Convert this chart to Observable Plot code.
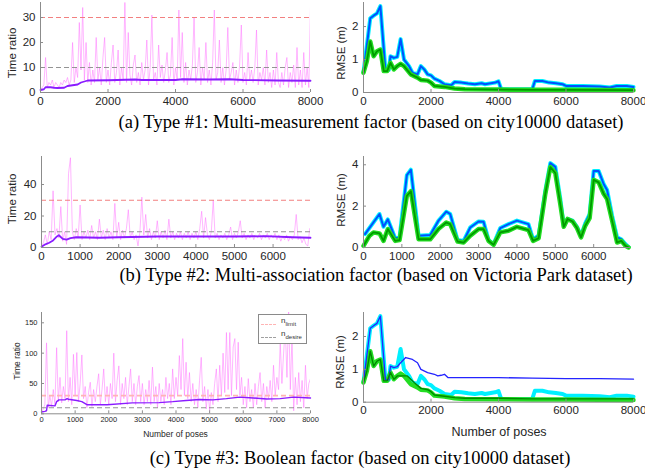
<!DOCTYPE html>
<html><head><meta charset="utf-8">
<script src="https://cdn.jsdelivr.net/npm/d3@7"></script>
<script src="https://cdn.jsdelivr.net/npm/@observablehq/plot@0.6"></script>
<style>
body{margin:0;background:#fff;}
#root{position:relative;width:645px;height:474px;overflow:hidden;font-family:"Liberation Sans",Arial,sans-serif;background:#fff;}
.p{position:absolute;}
.p svg{overflow:visible;display:block;}
.cap{position:absolute;width:640px;text-align:center;font-family:"Liberation Serif","Times New Roman",serif;font-size:18.5px;line-height:18px;color:#000;white-space:nowrap;}
.yl{position:absolute;transform:translate(-50%,-50%) rotate(-90deg);white-space:nowrap;color:#262626;line-height:1;}
.xl{position:absolute;transform:translate(-50%,-50%);white-space:nowrap;color:#262626;line-height:1;}
#leg{position:absolute;left:258px;top:314px;width:47px;height:28px;border:1px solid #8a8a8a;background:#fff;font-size:8px;color:#333;}
#leg .row{position:absolute;left:2px;height:10px;}
#leg .dash{position:absolute;left:0;top:5px;width:15px;height:0;border-top:1.5px dashed;}
#leg .t{position:absolute;left:20px;top:-3px;white-space:nowrap;}
#leg sub{font-size:6px;vertical-align:-3px;}
</style></head>
<body><div id="root"></div>
<script>
// ---------- data ----------
// (a) Type #1, Time ratio (step 50 poses)
const pinkA = [1,2,3,14,2,4,3,5,2,4,3,2,4,3,5,4,6,3,5,20,
4,10,6,28,9,34,5,20,4,12,3,9,4,22,5,10,3,14,22,4,
9,3,12,19,4,8,17,3,10,5,36,4,24,7,3,11,15,4,8,3,
12,5,9,21,3,10,31,5,8,3,19,6,11,4,9,16,4,7,22,3,
10,5,33,6,24,4,12,3,9,5,11,30,4,8,18,3,10,5,20,4,
9,3,12,33,5,8,21,4,10,3,9,26,5,8,12,3,9,4,11,27,
4,8,3,16,5,9,4,10,25,3,8,5,10,3,17,4,8,2,9,3,
16,4,2,8,3,10,14,2,8,4,11,2,18,3,9,2,16,3,10,2,34];
const purpleAx = [0,100,150,300,400,500,700,800,1000,1100,1200,1400,2000,2800,3000,4000,4200,5000,5600,6000,7000,8000];
const purpleAy = [1,1.3,2.1,2.1,1.9,1.8,1.9,2.6,3,3.2,4,4.8,4.9,5.2,5,5,5.3,5.2,5.3,5,4.8,4.7];
// (a) RMSE
const blueAx = [0,200,300,400,500,650,750,800,900,1000,1100,1200,1350,1450,1600,1700,1800,1900,2000,2100,2250,2400,2600,2700,2900,3100,3300,3500,3600,3900,4000,4080,5000,5080,5300,5500,5700,5900,6000,6500,7000,7300,7500,7800,8000];
const blueAy = [0.62,2.25,2.33,2.4,2.62,0.68,0.68,1.1,1.05,1.08,1.62,1.0,0.8,0.6,0.55,0.8,0.7,0.55,0.52,0.42,0.35,0.25,0.22,0.32,0.3,0.27,0.25,0.28,0.25,0.3,0.34,0.1,0.1,0.35,0.35,0.3,0.28,0.25,0.2,0.2,0.18,0.15,0.2,0.2,0.17];
const greenAx = [0,100,200,300,400,500,600,700,800,900,1000,1100,1200,1400,1600,1700,1900,2000,2100,2400,2700,3000,4000,5000,6000,8000];
const greenAy = [0.6,0.95,1.55,1.1,1.25,1.3,0.65,0.65,0.9,0.7,0.8,0.87,0.8,0.55,0.45,0.38,0.36,0.3,0.2,0.17,0.12,0.1,0.09,0.08,0.08,0.07];

// (b) Type #2, Time ratio (step 50 poses)
const pinkB = [1,3,8,2,10,5,36,8,12,6,26,4,10,2,47,57,10,5,12,6,
27,5,10,6,11,5,14,6,10,5,18,6,11,5,12,6,10,5,28,6,
16,5,11,6,12,24,6,10,5,8,1,10,32,8,21,6,12,5,10,6,
17,5,10,6,11,5,18,6,10,5,9,6,10,5,9,6,10,5,9,6,
10,5,12,23,6,19,8,5,10,30,6,9,5,8,6,9,5,8,13,5,
9,6,10,17,6,9,5,8,6,9,5,8,6,9,5,8,6,9,5,8,
6,9,5,8,4,7,5,8,4,7,5,8,21,5,7,3,6,2,1,12];
const purpleBx = [0,100,200,300,400,450,550,650,750,900,1500,2000,3000,4000,5000,5800,6500,6970];
const purpleBy = [0.5,2,3,4.5,7,7.8,5.5,5,6,6.5,6.2,6.5,7,7,7,7.2,6.5,6.2];
// (b) RMSE
const blueBx = [40,417,522,635,826,939,1130,1235,1435,1740,1957,2157,2260,2452,2610,2783,3000,3130,3260,3390,3565,3780,4000,4300,4420,4565,4740,4870,5000,5130,5220,5320,5450,5565,5670,5780,5895,6000,6130,6260,6350,6480,6610,6720,6830,6910];
const blueBy = [0.65,1.62,1.0,1.36,0.45,0.48,3.5,3.76,0.57,0.6,1.3,1.73,1.62,0.36,0.32,0.97,1.26,1.25,0.36,0.16,0.94,1.13,1.3,1.13,0.4,0.57,2.75,4.08,3.9,2.35,1.05,1.38,1.3,1.0,0.57,1.17,1.62,3.7,3.7,3.07,2.78,1.54,0.49,0.4,0.16,0.03];
const greenBx = [0,157,260,417,522,635,826,939,1130,1235,1435,1740,1957,2157,2260,2452,2610,2783,3000,3130,3260,3390,3565,3780,4000,4300,4420,4565,4740,4870,5000,5130,5220,5320,5450,5565,5670,5780,5895,6000,6130,6260,6350,6480,6610,6720,6830,6910];
const greenBy = [0.08,0.57,0.73,0.68,0.32,0.89,0.32,0.36,2.5,2.72,0.4,0.4,0.9,1.21,1.13,0.29,0.24,0.57,0.89,0.89,0.32,0.13,0.73,0.81,1.0,0.84,0.32,0.45,2.6,3.89,3.6,2.1,1.0,1.38,1.26,0.94,0.49,1.05,1.42,3.27,3.15,2.6,2.35,1.3,0.24,0.32,0.08,0];

// (c) Type #3, Time ratio (step 50 poses)
const pinkC = [2,8,15,117,10,30,12,40,15,109,20,60,18,45,25,137,20,60,15,98,
30,101,20,50,97,25,45,10,35,52,12,40,20,45,66,15,40,74,20,45,
15,50,25,100,20,55,79,15,50,25,60,15,45,74,20,50,15,45,63,20,
50,15,40,20,55,15,77,20,45,10,50,20,40,15,60,25,50,15,74,25,
60,30,96,40,124,30,85,25,68,20,50,15,40,10,55,93,20,45,8,40,
5,35,15,50,74,20,80,30,100,35,134,40,134,30,110,124,40,118,30,60,
15,45,10,58,20,40,10,50,15,45,68,20,50,10,45,25,55,20,80,30,
60,40,118,50,100,142,60,170,40,128,5,60,15,68,20,55,10,80,25,50,58];
const purpleCx = [0,100,150,170,400,450,520,700,760,800,1050,1200,1350,1950,2700,3500,3900,4300,4700,5100,5500,5900,6300,6700,7100,7500,8000];
const purpleCy = [3,4,5,14,13,20,23,23,25,24,22,20,15,15,18,18.5,20,22,23.5,23,25,27.5,26,24.5,25,27.5,26];
// (c) RMSE
const blueCx = [0,200,300,400,500,650,750,800,900,1000,1100,1250,1450,1600,1700,1900,2100,2200,2300,2400,2500,3000,4000,5000,6000,7000,8000];
const blueCy = [0.62,2.25,2.33,2.4,2.62,0.68,0.68,1.1,1.05,1.08,1.2,1.36,1.3,1.2,1.0,0.9,0.85,0.8,0.82,0.85,0.75,0.75,0.75,0.73,0.72,0.72,0.7];
const dgreenCx = [0,100,200,300,400,500,600,700,800,900,1000,1100,1200,1300,1500,1700,1900,2000,2100,2400,2700,3000,4000,5000,6000,8000];
const dgreenCy = [0.6,0.95,1.55,1.1,1.25,1.3,0.65,0.65,0.9,0.7,0.8,0.8,0.8,0.8,0.6,0.42,0.38,0.32,0.22,0.18,0.14,0.12,0.12,0.1,0.1,0.1];

const ticksX8 = [0,2000,4000,6000,8000];
const ticksX7 = [0,1000,2000,3000,4000,5000,6000];
const ticksX8b = [0,1000,2000,3000,4000,5000,6000,7000,8000];
const limitN = 30, desireN = 10;

// ---------- helpers ----------
const root = document.getElementById("root");
const AX = "#8c8c8c";
function panel(o){
  const [x0,x1]=o.xdom,[y0,y1]=o.ydom;
  const ih = o.height-o.mt-o.mb, iw = o.width-o.ml-o.mr;
  const tx = 3/ih*(y1-y0), ty = 3/iw*(x1-x0);
  const svg = Plot.plot({
    width:o.width,height:o.height,marginTop:o.mt,marginBottom:o.mb,marginLeft:o.ml,marginRight:o.mr,
    x:{domain:o.xdom},y:{domain:o.ydom},
    style:{fontFamily:'"Liberation Sans",Arial,sans-serif',fontSize:o.fs+"px",color:"#262626",background:"transparent",overflow:"visible"},
    marks:[
      ...o.marks,
      Plot.ruleX([x0],{stroke:AX}),
      Plot.ruleY([y0],{stroke:AX}),
      Plot.ruleX(o.xticks,{x:d=>d,y1:y0,y2:y0+tx,stroke:AX}),
      Plot.ruleY(o.yticks,{y:d=>d,x1:x0,x2:x0+ty,stroke:AX}),
      Plot.axisX({ticks:o.xticks,tickSize:0,tickPadding:o.px??4,label:null,tickFormat:d=>String(d),fill:"#262626"}),
      Plot.axisY({ticks:o.yticks,tickSize:0,tickPadding:o.py??5,label:null,tickFormat:d=>String(d),fill:"#262626"})
    ]
  });
  const div=document.createElement("div");
  div.className="p";div.style.left=o.left+"px";div.style.top=o.top+"px";div.style.width=o.width+"px";div.style.height=o.height+"px";
  div.appendChild(svg);root.appendChild(div);
}
function txt(cls,s,x,y,fs){
  const d=document.createElement("div");d.className=cls;d.textContent=s;
  d.style.left=x+"px";d.style.top=y+"px";d.style.fontSize=fs+"px";root.appendChild(d);
}
function cap(s,cx,top){
  const d=document.createElement("div");d.className="cap";d.textContent=s;
  d.style.left=(cx-320)+"px";d.style.top=top+"px";root.appendChild(d);
}
const pinkLine = (arr)=>Plot.lineY(arr,{x:(d,i)=>i*50,y:d=>d,stroke:"#ff70ff",strokeOpacity:0.5,strokeWidth:1,clip:true});
const dashR = (c,w)=>Plot.ruleY([limitN],{stroke:c,strokeWidth:w,strokeDasharray:"5,3"});
const dashG = Plot.ruleY([desireN],{stroke:"#949494",strokeWidth:1.1,strokeDasharray:"5,3"});
const purp = (xs,ys,w)=>Plot.lineY(ys,{x:xs,stroke:"#8a1cff",strokeWidth:w});

// ---------- (a) ----------
panel({left:0,top:0,width:322,height:110,mt:2,mb:18,ml:40,mr:12,xdom:[0,8000],ydom:[0,36],
  xticks:ticksX8,yticks:[0,10,20,30],fs:11.5,
  marks:[pinkLine(pinkA),dashR("#f28080",1.1),dashG,purp(purpleAx,purpleAy,1.8)]});
panel({left:322,top:0,width:323,height:110,mt:2,mb:18,ml:41,mr:12,xdom:[0,8000],ydom:[0,2.73],
  xticks:ticksX8,yticks:[0,1,2],fs:11.5,
  marks:[
    Plot.lineY(blueAy,{x:blueAx,stroke:"#00f0ff",strokeWidth:4}),
    Plot.lineY(blueAy,{x:blueAx,stroke:"#0050ff",strokeWidth:2}),
    Plot.lineY(greenAy,{x:greenAx,stroke:"#22dd22",strokeWidth:4.5}),
    Plot.lineY(greenAy,{x:greenAx,stroke:"#009a00",strokeWidth:1.8})
  ]});
txt("yl","Time ratio",13,53,11.5);
txt("yl","RMSE (m)",342,53,11.5);
cap("(a) Type #1: Multi-measurement factor (based on city10000 dataset)",371,113);

// ---------- (b) ----------
panel({left:0,top:140,width:322,height:125,mt:16,mb:18,ml:41,mr:12,xdom:[0,6970],ydom:[0,57.8],
  xticks:ticksX7,yticks:[0,20,40],fs:11.5,
  marks:[pinkLine(pinkB),dashR("#f28080",1.1),dashG,purp(purpleBx,purpleBy,1.8)]});
panel({left:322,top:140,width:323,height:125,mt:16,mb:18,ml:41,mr:15,xdom:[0,6960],ydom:[0,4.4],
  xticks:ticksX7,yticks:[0,2,4],fs:11.5,
  marks:[
    Plot.lineY(blueBy,{x:blueBx,stroke:"#00f0ff",strokeWidth:4}),
    Plot.lineY(blueBy,{x:blueBx,stroke:"#0050ff",strokeWidth:2}),
    Plot.lineY(greenBy,{x:greenBx,stroke:"#22dd22",strokeWidth:4.5}),
    Plot.lineY(greenBy,{x:greenBx,stroke:"#009a00",strokeWidth:1.8})
  ]});
txt("yl","Time ratio",13,199,11.5);
txt("yl","RMSE (m)",342,200,11.5);
cap("(b) Type #2: Multi-association factor (based on Victoria Park dataset)",376,266);

// ---------- (c) ----------
panel({left:0,top:300,width:322,height:145,mt:12,mb:31.7,ml:41,mr:12,xdom:[0,8000],ydom:[0,167],
  xticks:ticksX8b,yticks:[0,50,100,150],fs:7.5,px:3,py:4,
  marks:[pinkLine(pinkC),dashR("#ffb4b4",1.8),dashG,purp(purpleCx,purpleCy,1.4)]});
panel({left:322,top:300,width:323,height:125,mt:12,mb:23.3,ml:41,mr:12,xdom:[0,8000],ydom:[0,2.73],
  xticks:ticksX8,yticks:[0,1,2],fs:11.5,
  marks:[
    Plot.lineY(blueAy,{x:blueAx,stroke:"#00f0ff",strokeWidth:4}),
    Plot.lineY(greenAy,{x:greenAx,stroke:"#22dd22",strokeWidth:4.5}),
    Plot.lineY(blueCy,{x:blueCx,stroke:"#2424ff",strokeWidth:1.3}),
    Plot.lineY(dgreenCy,{x:dgreenCx,stroke:"#008a00",strokeWidth:1.4})
  ]});
txt("yl","Time ratio",16.5,361,8.5);
txt("xl","Number of poses",175.5,434,8.5);
txt("yl","RMSE (m)",341,362,11.5);
txt("xl","Number of poses",499,432,12.5);
cap("(c) Type #3: Boolean factor (based on city10000 dataset)",360,449);

// legend
const leg=document.createElement("div");leg.id="leg";
leg.innerHTML='<div class="row" style="top:4px"><div class="dash" style="border-color:#ffb4b4"></div><span class="t">n<sub>limit</sub></span></div>'+
 '<div class="row" style="top:17px"><div class="dash" style="border-color:#a0a0a0"></div><span class="t">n<sub>desire</sub></span></div>';
root.appendChild(leg);
</script></body></html>
